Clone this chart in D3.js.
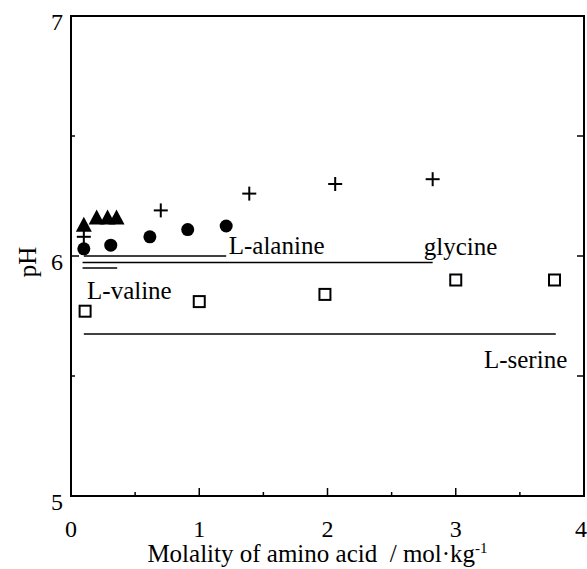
<!doctype html>
<html>
<head>
<meta charset="utf-8">
<title>pH vs molality</title>
<style>
* {padding:0;margin:0}
body {background:#fff}
text {font-family:"Liberation Serif","Times New Roman",serif; fill:#000}
</style>
</head>
<body>
<div id="chart"></div>
<script src="https://d3js.org/d3.v7.min.js"></script>
<script>
// data
const glyX = [0.10, 0.70, 1.39, 2.06, 2.82];
const glyPH = [6.08, 6.19, 6.26, 6.30, 6.32];
const alaX = [0.10, 0.31, 0.615, 0.91, 1.21];
const alaPH = [6.03, 6.045, 6.08, 6.11, 6.125];
const valX = [0.10, 0.20, 0.285, 0.355];
const valPH = [6.13, 6.16, 6.16, 6.16];
const serX = [0.11, 1.00, 1.98, 3.00, 3.77];
const serPH = [5.77, 5.81, 5.84, 5.90, 5.90];

// horizontal reference lines: [name, x0, x1, pH]
const refLines = [
	["L-alanine", 0.10, 1.21, 6.00],
	["glycine", 0.09, 2.82, 5.973],
	["L-valine", 0.09, 0.36, 5.95],
	["L-serine", 0.10, 3.78, 5.675]
];
// labels: [text, x, pH]
const labels = [
	["L-alanine", 1.23, 6.01],
	["glycine", 2.75, 6.005],
	["L-valine", 0.125, 5.82],
	["L-serine", 3.22, 5.535]
];

const xTicks = [0, 1, 2, 3, 4];
const yTicks = [5, 6, 7];

const margin = {top: 16, right: 3, bottom: 73, left: 71};
const W = 587, H = 569;
const width = W - margin.left - margin.right;
const height = H - margin.top - margin.bottom;

const x = d3.scaleLinear().domain([0, 4]).range([0, width]);
const y = d3.scaleLinear().domain([5, 7]).range([height, 0]);

const svg = d3.select("#chart").append("svg")
	.attr("width", W)
	.attr("height", H)
	.append("g")
	.attr("transform", "translate(" + margin.left + "," + margin.top + ")");

// frame
svg.append("rect")
	.attr("x", 0).attr("y", 0)
	.attr("width", width).attr("height", height)
	.attr("fill", "none").attr("stroke", "#000").attr("stroke-width", 2);

// inward ticks
const halfX = d3.range(0, 4.01, 0.5);
const halfY = d3.range(5, 7.01, 0.5);
svg.selectAll(".xt").data(halfX).enter().append("line")
	.attr("x1", d => x(d)).attr("x2", d => x(d))
	.attr("y1", height).attr("y2", d => height - (d % 1 === 0 ? 8 : 4))
	.attr("stroke", "#000").attr("stroke-width", 1.5);
svg.selectAll(".ytl").data(halfY).enter().append("line")
	.attr("x1", 0).attr("x2", d => (d % 1 === 0 ? 8 : 4))
	.attr("y1", d => y(d)).attr("y2", d => y(d))
	.attr("stroke", "#000").attr("stroke-width", 1.5);
svg.selectAll(".ytr").data(halfY).enter().append("line")
	.attr("x1", width).attr("x2", d => width - 7)
	.attr("y1", d => y(d)).attr("y2", d => y(d))
	.attr("stroke", "#000").attr("stroke-width", 1.5);

// tick labels
svg.selectAll(".xl").data(xTicks).enter().append("text")
	.attr("x", d => d === 4 ? x(d) + margin.right : x(d))
	.attr("y", height + 41)
	.attr("text-anchor", d => d === 4 ? "end" : "middle")
	.style("font-size", "24px")
	.text(d => d);
svg.selectAll(".yl").data(yTicks).enter().append("text")
	.attr("x", -8).attr("y", d => y(d) + 14)
	.attr("text-anchor", "end")
	.style("font-size", "24px")
	.text(d => d);

// axis titles
const xt = svg.append("text")
	.attr("x", width / 2 - 10).attr("y", height + 66)
	.attr("text-anchor", "middle")
	.style("font-size", "25px");
xt.append("tspan").text("Molality of amino acid\u00a0 / mol\u00b7kg");
xt.append("tspan").attr("dy", -9).style("font-size", "15px").text("-1");

svg.append("text")
	.attr("transform", "translate(" + (-44) + "," + (y(6) + 6) + ") rotate(-90)")
	.attr("text-anchor", "middle")
	.attr("dy", "0.35em")
	.style("font-size", "25px")
	.text("pH");

// reference lines
svg.selectAll(".ref").data(refLines).enter().append("line")
	.attr("x1", d => x(d[1])).attr("x2", d => x(d[2]))
	.attr("y1", d => y(d[3])).attr("y2", d => y(d[3]))
	.attr("stroke", "#000").attr("stroke-width", 1.5);

svg.selectAll(".lab").data(labels).enter().append("text")
	.attr("x", d => x(d[1])).attr("y", d => y(d[2]))
	.style("font-size", "25px")
	.text(d => d[0]);

// L-serine: open squares
svg.selectAll(".ser").data(d3.zip(serX, serPH)).enter().append("rect")
	.attr("x", d => x(d[0]) - 5.5).attr("y", d => y(d[1]) - 5.5)
	.attr("width", 11).attr("height", 11)
	.attr("fill", "#fff").attr("stroke", "#000").attr("stroke-width", 2);

// L-alanine: filled circles
svg.selectAll(".ala").data(d3.zip(alaX, alaPH)).enter().append("circle")
	.attr("cx", d => x(d[0])).attr("cy", d => y(d[1]))
	.attr("r", 6.5).attr("fill", "#000");

// glycine: plus markers
svg.selectAll(".gly").data(d3.zip(glyX, glyPH)).enter().append("g")
	.attr("transform", d => "translate(" + x(d[0]) + "," + y(d[1]) + ")")
	.each(function () {
		const g = d3.select(this);
		g.append("line").attr("x1", -7).attr("x2", 7).attr("y1", 0).attr("y2", 0)
			.attr("stroke", "#000").attr("stroke-width", 2);
		g.append("line").attr("x1", 0).attr("x2", 0).attr("y1", -7).attr("y2", 7)
			.attr("stroke", "#000").attr("stroke-width", 2);
	});

// L-valine: filled triangles
svg.selectAll(".val").data(d3.zip(valX, valPH)).enter().append("path")
	.attr("transform", d => "translate(" + x(d[0]) + "," + y(d[1]) + ")")
	.attr("d", "M0,-8L8,7L-8,7Z")
	.attr("fill", "#000");
</script>
</body>
</html>
